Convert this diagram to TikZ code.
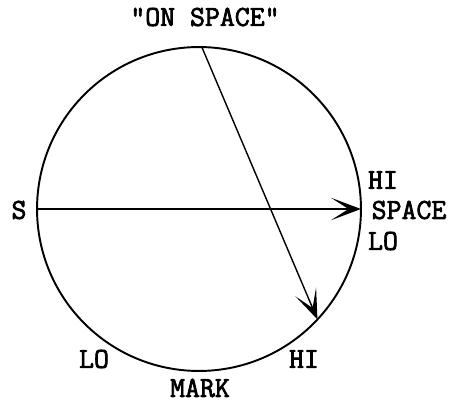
\documentclass[tikz,border=0pt]{standalone}
\usepackage{fontspec}
\setmonofont{Latin Modern Mono}[AutoFakeBold=2.5]
\usetikzlibrary{arrows.meta}

\begin{document}
\begin{tikzpicture}[
  x=0.02cm, y=-0.02cm,
  every node/.style={font=\ttfamily\bfseries\fontsize{16.5}{18}\selectfont},
  ring/.style={circle, draw, line width=1.1pt, minimum size=6.48cm, inner sep=0pt, outer sep=0pt},
  lbl/.style={inner sep=0pt},
  arr/.style={-{Stealth[length=6mm, width=4.5mm, inset=3.5mm]}, line width=0.8pt},
]
\useasboundingbox (0,0) rectangle (453,402);
\node[ring] (c) at (199,209) {};
\node[lbl] (onsp) at (205,17) {"ON SPACE"};
\node[lbl] (s)    at (19,210) {S};
\node[lbl] (hi1)  at (383,180) {HI};
\node[lbl] (sp)   at (409,210) {SPACE};
\node[lbl] (lo1)  at (383,241) {LO};
\node[lbl] (lo2)  at (94,359) {LO};
\node[lbl] (hi2)  at (304,359) {HI};
\node[lbl] (mark) at (200,388) {MARK};
\draw[arr] (c.180) -- (c.0);
\draw[arr] (c.89.6) -- (c.-43.5);
\end{tikzpicture}
\end{document}
